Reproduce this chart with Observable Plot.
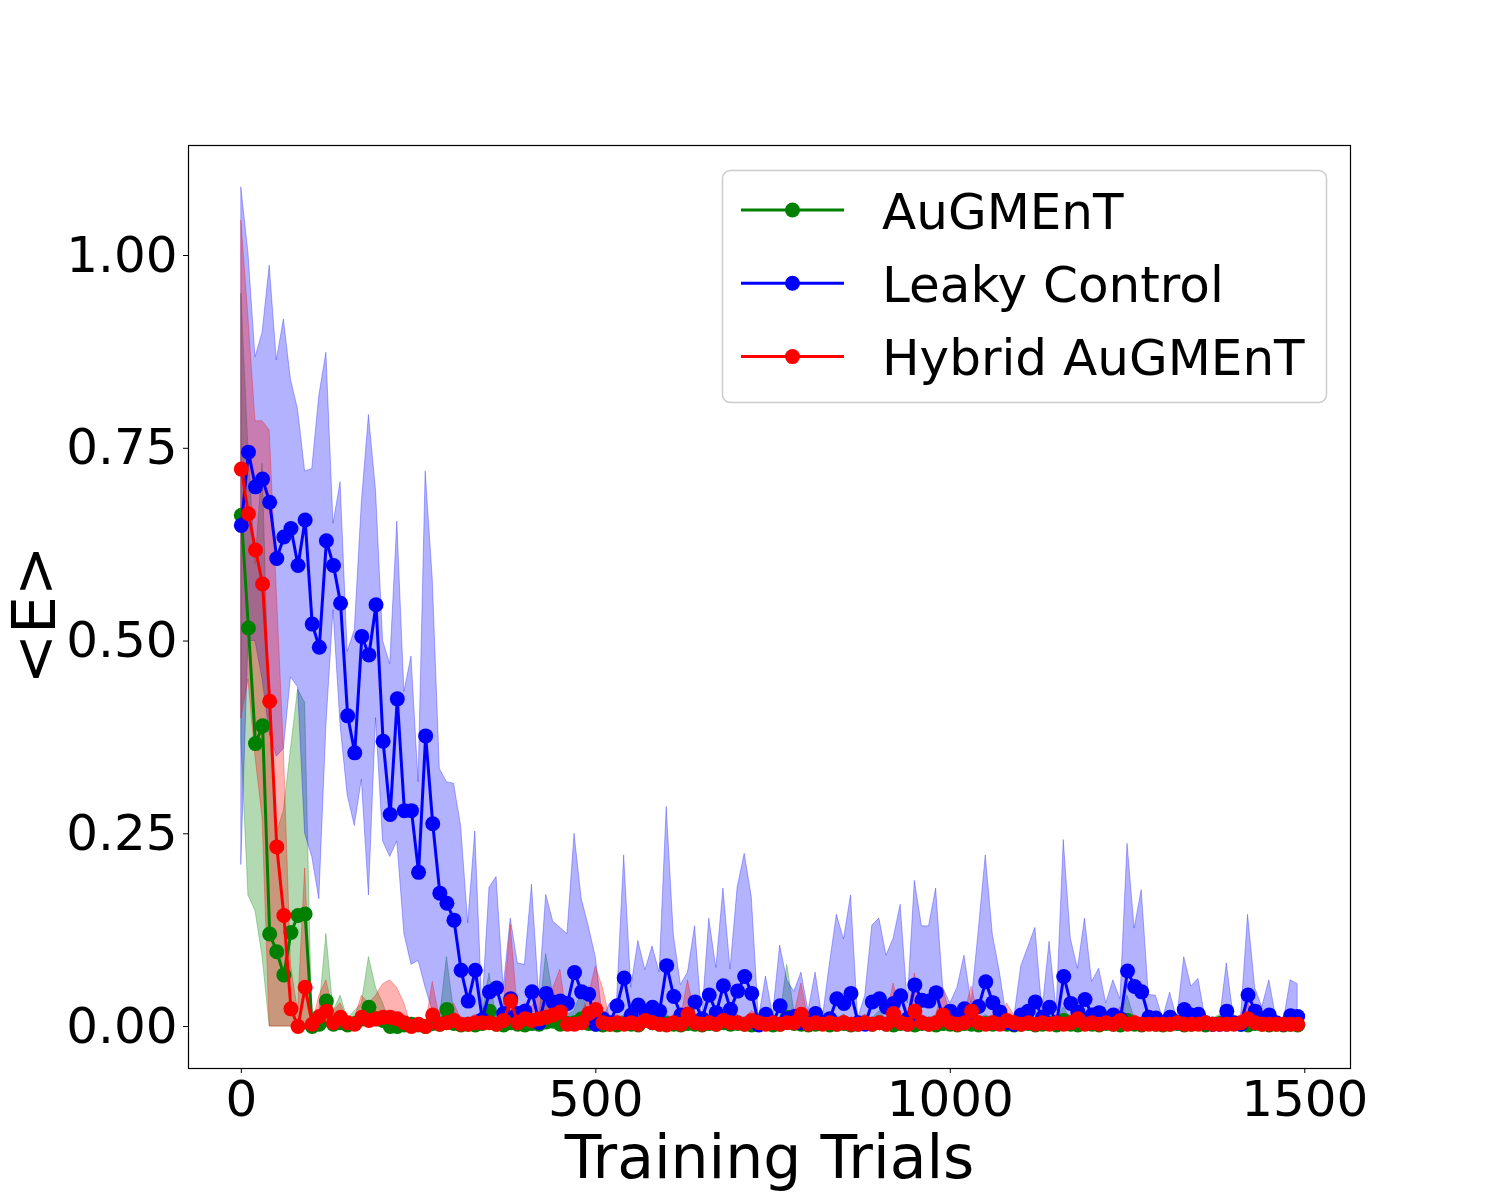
<!DOCTYPE html>
<html>
<head>
<meta charset="utf-8">
<script src="https://cdn.jsdelivr.net/npm/d3@7"></script>
<script src="https://cdn.jsdelivr.net/npm/@observablehq/plot@0.6"></script>
<style>
  html, body { margin: 0; padding: 0; background: white; }
  #chart svg { display: block; }
</style>
</head>
<body>
<div id="chart"></div>
<script>
// ---------- data ----------
const trials = [
  0,10,20,30,40,50,60,70,80,90,
  100,110,120,130,140,150,160,170,180,190,
  200,210,220,230,240,250,260,270,280,290,
  300,310,320,330,340,350,360,370,380,390,
  400,410,420,430,440,450,460,470,480,490,
  500,510,520,530,540,550,560,570,580,590,
  600,610,620,630,640,650,660,670,680,690,
  700,710,720,730,740,750,760,770,780,790,
  800,810,820,830,840,850,860,870,880,890,
  900,910,920,930,940,950,960,970,980,990,
  1000,1010,1020,1030,1040,1050,1060,1070,1080,1090,
  1100,1110,1120,1130,1140,1150,1160,1170,1180,1190,
  1200,1210,1220,1230,1240,1250,1260,1270,1280,1290,
  1300,1310,1320,1330,1340,1350,1360,1370,1380,1390,
  1400,1410,1420,1430,1440,1450,1460,1470,1480,1490
];

const seriesNames = ["AuGMEnT", "Leaky Control", "Hybrid AuGMEnT"];
const seriesColors = ["green", "blue", "red"];

// AuGMEnT
const augMean = [
  0.663,0.517,0.367,0.390,0.120,0.097,0.067,0.122,0.144,0.146,
  0.000,0.003,0.033,0.003,0.005,0.002,0.004,0.010,0.025,0.010,
  0.008,0.000,0.000,0.002,0.003,0.002,0.000,0.004,0.003,0.022,
  0.004,0.002,0.003,0.002,0.004,0.020,0.003,0.002,0.005,0.003,
  0.002,0.004,0.003,0.006,0.007,0.003,0.004,0.005,0.010,0.004,
  0.003,0.002,0.003,0.002,0.004,0.003,0.002,0.008,0.005,0.003,
  0.004,0.003,0.002,0.004,0.003,0.002,0.004,0.003,0.005,0.003,
  0.004,0.003,0.002,0.003,0.004,0.002,0.003,0.012,0.004,0.003,
  0.002,0.003,0.004,0.002,0.003,0.004,0.002,0.003,0.004,0.003,
  0.005,0.003,0.002,0.004,0.003,0.002,0.004,0.003,0.002,0.004,
  0.003,0.002,0.004,0.003,0.002,0.004,0.003,0.005,0.003,0.002,
  0.003,0.004,0.002,0.003,0.004,0.002,0.008,0.003,0.002,0.004,
  0.003,0.002,0.004,0.003,0.002,0.008,0.003,0.002,0.004,0.003,
  0.002,0.003,0.004,0.002,0.003,0.004,0.002,0.003,0.004,0.003,
  0.004,0.003,0.002,0.004,0.003,0.002,0.003,0.002,0.003,0.002
];
const augHi = [
  0.950,0.750,0.600,0.730,0.400,0.250,0.280,0.360,0.437,0.420,
  0.000,0.020,0.120,0.020,0.040,0.010,0.020,0.030,0.090,0.050,
  0.030,0.005,0.005,0.010,0.010,0.010,0.005,0.015,0.010,0.090,
  0.020,0.010,0.010,0.010,0.015,0.069,0.010,0.010,0.020,0.010,
  0.010,0.015,0.010,0.094,0.040,0.010,0.015,0.020,0.045,0.015,
  0.010,0.010,0.010,0.010,0.015,0.010,0.010,0.025,0.020,0.010,
  0.015,0.010,0.010,0.015,0.010,0.010,0.015,0.010,0.020,0.010,
  0.015,0.010,0.010,0.010,0.015,0.010,0.010,0.080,0.020,0.010,
  0.010,0.010,0.015,0.010,0.010,0.015,0.010,0.010,0.015,0.010,
  0.020,0.010,0.010,0.015,0.010,0.010,0.015,0.010,0.010,0.015,
  0.010,0.010,0.015,0.010,0.010,0.015,0.010,0.020,0.010,0.010,
  0.010,0.015,0.010,0.010,0.015,0.010,0.025,0.010,0.010,0.015,
  0.010,0.010,0.015,0.010,0.010,0.040,0.010,0.010,0.015,0.010,
  0.010,0.010,0.015,0.010,0.010,0.015,0.010,0.010,0.015,0.010,
  0.015,0.010,0.010,0.015,0.010,0.010,0.010,0.010,0.010,0.010
];
const augLo = [
  0.370,0.170,0.150,0.090,0,0,0,0,0,0,
  0,0,0,0,0,0,0,0,0,0, 0,0,0,0,0,0,0,0,0,0, 0,0,0,0,0,0,0,0,0,0,
  0,0,0,0,0,0,0,0,0,0, 0,0,0,0,0,0,0,0,0,0, 0,0,0,0,0,0,0,0,0,0,
  0,0,0,0,0,0,0,0,0,0, 0,0,0,0,0,0,0,0,0,0, 0,0,0,0,0,0,0,0,0,0,
  0,0,0,0,0,0,0,0,0,0, 0,0,0,0,0,0,0,0,0,0, 0,0,0,0,0,0,0,0,0,0,
  0,0,0,0,0,0,0,0,0,0, 0,0,0,0,0,0,0,0,0,0
];

// Leaky Control
const leakyMean = [
  0.650,0.745,0.700,0.710,0.680,0.607,0.635,0.646,0.598,0.657,
  0.522,0.492,0.630,0.598,0.549,0.403,0.355,0.506,0.482,0.547,
  0.370,0.275,0.425,0.280,0.280,0.200,0.377,0.263,0.173,0.160,
  0.138,0.073,0.033,0.073,0.009,0.045,0.050,0.017,0.036,0.017,
  0.020,0.045,0.005,0.043,0.032,0.033,0.030,0.070,0.045,0.042,
  0.003,0.010,0.005,0.027,0.063,0.015,0.028,0.020,0.025,0.020,
  0.079,0.039,0.015,0.016,0.032,0.010,0.041,0.018,0.053,0.022,
  0.046,0.065,0.043,0.002,0.016,0.005,0.027,0.010,0.013,0.005,
  0.005,0.017,0.005,0.010,0.036,0.030,0.043,0.005,0.003,0.032,
  0.036,0.025,0.030,0.040,0.010,0.054,0.034,0.033,0.044,0.010,
  0.020,0.010,0.023,0.010,0.026,0.058,0.031,0.019,0.005,0.003,
  0.015,0.020,0.032,0.012,0.025,0.005,0.065,0.030,0.019,0.035,
  0.015,0.018,0.010,0.015,0.010,0.072,0.052,0.045,0.012,0.011,
  0.005,0.012,0.005,0.022,0.015,0.016,0.005,0.003,0.003,0.020,
  0.005,0.003,0.041,0.020,0.010,0.015,0.005,0.003,0.014,0.013
];
const leakyHi = [
  1.088,1.004,0.868,0.900,0.987,0.864,0.917,0.839,0.800,0.720,
  0.723,0.818,0.874,0.652,0.706,0.486,0.514,0.680,0.793,0.695,
  0.500,0.470,0.655,0.434,0.480,0.317,0.720,0.580,0.334,0.317,
  0.315,0.260,0.134,0.253,0.023,0.180,0.194,0.050,0.140,0.082,
  0.080,0.184,0.040,0.171,0.136,0.128,0.120,0.250,0.166,0.130,
  0.090,0.010,0.030,0.035,0.222,0.050,0.111,0.073,0.104,0.070,
  0.285,0.119,0.054,0.070,0.130,0.010,0.140,0.076,0.179,0.074,
  0.180,0.224,0.168,0.010,0.065,0.015,0.105,0.060,0.045,0.070,
  0.020,0.070,0.010,0.080,0.145,0.113,0.170,0.010,0.040,0.131,
  0.140,0.092,0.114,0.158,0.030,0.189,0.130,0.130,0.179,0.050,
  0.030,0.050,0.092,0.030,0.123,0.222,0.119,0.070,0.010,0.010,
  0.078,0.103,0.128,0.020,0.110,0.020,0.242,0.114,0.075,0.140,
  0.058,0.075,0.030,0.060,0.035,0.237,0.127,0.177,0.041,0.040,
  0.010,0.044,0.010,0.090,0.052,0.062,0.010,0.005,0.005,0.082,
  0.010,0.010,0.145,0.050,0.025,0.060,0.010,0.005,0.060,0.055
];
const leakyLo = [
  0.210,0.500,0.500,0.450,0.380,0.350,0.360,0.453,0.440,0.250,
  0.220,0.165,0.390,0.540,0.390,0.300,0.260,0.320,0.170,0.400,
  0.240,0.220,0.240,0.120,0.080,0.085,0.050,0.020,0.010,0,
  0,0,0,0,0,0,0,0,0,0, 0,0,0,0,0,0,0,0,0,0, 0,0,0,0,0,0,0,0,0,0,
  0,0,0,0,0,0,0,0,0,0, 0,0,0,0,0,0,0,0,0,0, 0,0,0,0,0,0,0,0,0,0,
  0,0,0,0,0,0,0,0,0,0, 0,0,0,0,0,0,0,0,0,0, 0,0,0,0,0,0,0,0,0,0,
  0,0,0,0,0,0,0,0,0,0, 0,0,0,0,0,0,0,0,0,0, 0,0,0,0,0,0,0,0,0,0
];

// Hybrid AuGMEnT
const hybridMean = [
  0.723,0.665,0.618,0.574,0.422,0.233,0.144,0.023,0.000,0.051,
  0.003,0.013,0.020,0.005,0.012,0.005,0.003,0.012,0.008,0.010,
  0.012,0.012,0.010,0.005,0.000,0.003,0.000,0.015,0.003,0.005,
  0.008,0.003,0.003,0.005,0.005,0.005,0.003,0.008,0.033,0.005,
  0.010,0.008,0.010,0.012,0.015,0.019,0.003,0.003,0.005,0.017,
  0.022,0.005,0.003,0.005,0.003,0.005,0.003,0.008,0.005,0.003,
  0.002,0.005,0.003,0.016,0.005,0.003,0.005,0.003,0.008,0.005,
  0.005,0.003,0.008,0.005,0.003,0.005,0.003,0.005,0.005,0.016,
  0.003,0.005,0.003,0.005,0.003,0.005,0.003,0.003,0.005,0.003,
  0.005,0.003,0.017,0.005,0.003,0.020,0.005,0.003,0.005,0.015,
  0.005,0.003,0.005,0.020,0.005,0.003,0.005,0.003,0.008,0.005,
  0.003,0.005,0.003,0.005,0.003,0.005,0.003,0.005,0.010,0.003,
  0.005,0.003,0.005,0.003,0.008,0.003,0.005,0.003,0.003,0.003,
  0.003,0.003,0.005,0.003,0.003,0.003,0.005,0.003,0.003,0.003,
  0.003,0.005,0.010,0.005,0.003,0.003,0.003,0.003,0.003,0.003
];
const hybridHi = [
  1.045,0.920,0.785,0.785,0.773,0.565,0.360,0.080,0.020,0.205,
  0.000,0.040,0.060,0.020,0.030,0.010,0.010,0.040,0.030,0.040,
  0.055,0.060,0.050,0.030,0.000,0.010,0.000,0.058,0.010,0.020,
  0.030,0.010,0.010,0.015,0.015,0.015,0.010,0.025,0.132,0.020,
  0.030,0.025,0.040,0.030,0.050,0.074,0.010,0.010,0.015,0.040,
  0.078,0.050,0.010,0.015,0.010,0.015,0.010,0.020,0.015,0.010,
  0.005,0.015,0.010,0.060,0.015,0.010,0.015,0.010,0.020,0.015,
  0.015,0.010,0.020,0.015,0.010,0.015,0.010,0.015,0.015,0.056,
  0.010,0.015,0.010,0.015,0.010,0.015,0.010,0.010,0.015,0.010,
  0.010,0.010,0.056,0.015,0.010,0.069,0.015,0.010,0.015,0.050,
  0.015,0.010,0.015,0.052,0.015,0.010,0.015,0.010,0.030,0.015,
  0.010,0.015,0.010,0.015,0.010,0.015,0.010,0.015,0.030,0.010,
  0.015,0.010,0.015,0.010,0.025,0.010,0.015,0.010,0.010,0.010,
  0.010,0.010,0.015,0.010,0.010,0.010,0.015,0.010,0.010,0.010,
  0.010,0.015,0.030,0.015,0.010,0.010,0.010,0.010,0.010,0.010
];
const hybridLo = [
  0.400,0.450,0.350,0.270,0,0,0,0,0,0,
  0,0,0,0,0,0,0,0,0,0, 0,0,0,0,0,0,0,0,0,0, 0,0,0,0,0,0,0,0,0,0,
  0,0,0,0,0,0,0,0,0,0, 0,0,0,0,0,0,0,0,0,0, 0,0,0,0,0,0,0,0,0,0,
  0,0,0,0,0,0,0,0,0,0, 0,0,0,0,0,0,0,0,0,0, 0,0,0,0,0,0,0,0,0,0,
  0,0,0,0,0,0,0,0,0,0, 0,0,0,0,0,0,0,0,0,0, 0,0,0,0,0,0,0,0,0,0,
  0,0,0,0,0,0,0,0,0,0, 0,0,0,0,0,0,0,0,0,0
];

const xTicks = [0, 500, 1000, 1500];
const yTicks = [0, 0.25, 0.5, 0.75, 1.0];

// ---------- build tables ----------
const means = [augMean, leakyMean, hybridMean];
const his = [augHi, leakyHi, hybridHi];
const los = [augLo, leakyLo, hybridLo];
const tables = seriesNames.map((name, s) =>
  trials.map((t, i) => ({ t, m: means[s][i], hi: his[s][i], lo: los[s][i] }))
);

const bandMarks = tables.map((rows, s) =>
  Plot.areaY(rows, {
    x: "t", y1: "lo", y2: "hi",
    fill: seriesColors[s], fillOpacity: 0.3,
    stroke: seriesColors[s], strokeOpacity: 0.3, strokeWidth: 1
  })
);
const lineMarks = tables.flatMap((rows, s) => [
  Plot.lineY(rows, { x: "t", y: "m", stroke: seriesColors[s], strokeWidth: 3 }),
  Plot.dot(rows, { x: "t", y: "m", r: 7.5, fill: seriesColors[s], stroke: "none" })
]);

const chart = Plot.plot({
  width: 1500,
  height: 1200,
  marginLeft: 188,
  marginRight: 150,
  marginTop: 145,
  marginBottom: 132,
  style: { fontFamily: "DejaVu Sans", background: "white", color: "black" },
  x: { domain: [-74.5, 1564.5] },
  y: { domain: [-0.0544, 1.1427] },
  marks: [
    ...bandMarks,
    ...lineMarks,
    Plot.frame({ stroke: "black", strokeWidth: 1.2 }),
    Plot.axisX({ ticks: xTicks, tickSize: 5, tickPadding: 7, fontSize: 50, label: null, tickFormat: d3.format("d") }),
    Plot.axisY({ ticks: yTicks, tickSize: 5, tickPadding: 6, fontSize: 50, label: null, tickFormat: d3.format(".2f") }),
    Plot.text(["Training Trials"], { frameAnchor: "bottom", lineAnchor: "middle", textAnchor: "middle", dy: 90, fontSize: 60, fill: "black" }),
    Plot.text(["<E>"], { frameAnchor: "left", lineAnchor: "middle", textAnchor: "middle", dx: -153, dy: 8, rotate: -90, fontSize: 60, fill: "black" })
  ]
});

document.getElementById("chart").appendChild(chart);

// ---------- legend (inside the axes, upper right) ----------
const svg = d3.select(chart);
const lg = svg.append("g").attr("font-family", "DejaVu Sans").attr("text-anchor", "start");
lg.append("rect")
  .attr("x", 722.5).attr("y", 170.5).attr("width", 604).attr("height", 232)
  .attr("rx", 8).attr("ry", 8)
  .attr("fill", "white").attr("fill-opacity", 0.8)
  .attr("stroke", "#cccccc").attr("stroke-width", 1.5);
seriesNames.forEach((name, s) => {
  const yy = 210 + s * 73.3;
  lg.append("line").attr("x1", 741).attr("x2", 844).attr("y1", yy).attr("y2", yy)
    .attr("stroke", seriesColors[s]).attr("stroke-width", 3);
  lg.append("circle").attr("cx", 792.5).attr("cy", yy).attr("r", 7.5).attr("fill", seriesColors[s]);
  lg.append("text").attr("x", 882).attr("y", yy + 18.5).attr("font-size", 50)
    .attr("text-anchor", "start").attr("fill", "black").text(name);
});
</script>
</body>
</html>
